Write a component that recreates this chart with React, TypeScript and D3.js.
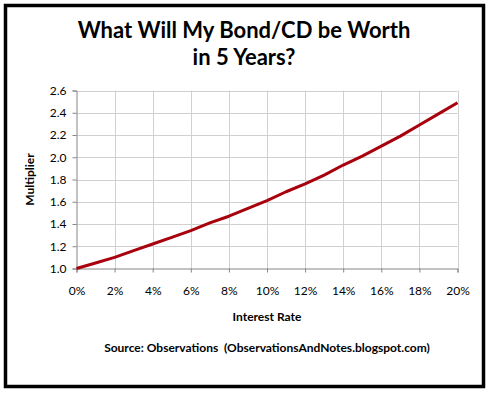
import { useEffect, useRef } from "react";
import * as d3 from "d3";

// interest rate (%) and the 5-year multiplier
const rates = [0, 1, 2, 3, 4, 5, 6, 7, 8, 9, 10, 11, 12, 13, 14, 15, 16, 17, 18, 19, 20];
const multipliers = [1.0, 1.05, 1.1, 1.16, 1.22, 1.28, 1.34, 1.41, 1.47, 1.54, 1.61, 1.69, 1.76, 1.84, 1.93, 2.01, 2.1, 2.19, 2.29, 2.39, 2.49];
const xTicks = [0, 2, 4, 6, 8, 10, 12, 14, 16, 18, 20];
const yTicks = [1.0, 1.2, 1.4, 1.6, 1.8, 2.0, 2.2, 2.4, 2.6];

const W = 487;
const H = 394;
const FONT = "Lato, 'Open Sans', sans-serif";

export default function App() {
  const svgRef = useRef<SVGSVGElement>(null);

  useEffect(() => {
    const svg = d3.select(svgRef.current);
    svg.selectAll("*").remove();

    const x = d3.scaleLinear().domain([0, 20]).range([76.5, 457.5]);
    const y = d3.scaleLinear().domain([1.0, 2.6]).range([268.5, 90.5]);

    svg.append("rect").attr("width", W).attr("height", H).attr("fill", "#fff");

    // outer frame
    svg.append("rect")
      .attr("x", 5.5).attr("y", 5.5)
      .attr("width", 478).attr("height", 381)
      .attr("fill", "none").attr("stroke", "#000").attr("stroke-width", 3.5);

    // title
    const title = svg.append("text")
      .attr("text-anchor", "middle")
      .attr("font-family", FONT).attr("font-weight", "bold")
      .attr("font-size", 22).attr("fill", "#000");
    title.append("tspan").attr("x", 244).attr("y", 38).text("What Will My Bond/CD be Worth");
    title.append("tspan").attr("x", 244).attr("y", 65).text("in 5 Years?");

    // gridlines
    const g = svg.append("g");
    g.selectAll("line.h").data(yTicks.slice(1)).join("line")
      .attr("x1", x(0)).attr("x2", x(20))
      .attr("y1", d => Math.round(y(d)) + 0.5).attr("y2", d => Math.round(y(d)) + 0.5)
      .attr("stroke", "#d0d0d0").attr("stroke-width", 1);
    g.selectAll("line.v").data(xTicks.slice(1)).join("line")
      .attr("y1", y(2.6)).attr("y2", y(1.0))
      .attr("x1", d => Math.round(x(d)) + 0.5).attr("x2", d => Math.round(x(d)) + 0.5)
      .attr("stroke", "#d0d0d0").attr("stroke-width", 1);

    // axes
    const yAxis = svg.append("g").attr("transform", `translate(${x(0)},0)`)
      .call(d3.axisLeft(y).tickValues(yTicks).tickFormat(d3.format(".1f")).tickSize(4).tickPadding(6));
    const xAxis = svg.append("g").attr("transform", `translate(0,${y(1.0)})`)
      .call(d3.axisBottom(x).tickValues(xTicks).tickFormat(d => `${d}%`).tickSize(4).tickPadding(14));
    [yAxis, xAxis].forEach(a => {
      a.selectAll("path, line").attr("stroke", "#868686");
      a.selectAll("text").attr("font-family", FONT).attr("font-size", 12).attr("fill", "#000");
    });

    // series line
    const line = d3.line<number>()
      .x((_, i) => x(rates[i]))
      .y(d => y(d));
    svg.append("path")
      .datum(multipliers)
      .attr("d", line)
      .attr("fill", "none")
      .attr("stroke", "#a8000c")
      .attr("stroke-width", 3)
      .attr("stroke-linejoin", "round");

    // axis titles
    svg.append("text")
      .attr("x", (x(0) + x(20)) / 2).attr("y", 321)
      .attr("text-anchor", "middle")
      .attr("font-family", FONT).attr("font-weight", "bold").attr("font-size", 12)
      .text("Interest Rate");
    svg.append("text")
      .attr("transform", `translate(34,${(y(1.0) + y(2.6)) / 2}) rotate(-90)`)
      .attr("text-anchor", "middle")
      .attr("font-family", FONT).attr("font-weight", "bold").attr("font-size", 12)
      .text("Multiplier");

    // source note
    svg.append("text")
      .attr("x", 267).attr("y", 352)
      .attr("text-anchor", "middle")
      .attr("font-family", FONT).attr("font-weight", "bold").attr("font-size", 12)
      .attr("xml:space", "preserve")
      .text("Source: Observations  (ObservationsAndNotes.blogspot.com)");
  }, []);

  return (
    <svg
      ref={svgRef}
      width={W}
      height={H}
      style={{ display: "block", position: "absolute", left: 0, top: 0 }}
    />
  );
}
